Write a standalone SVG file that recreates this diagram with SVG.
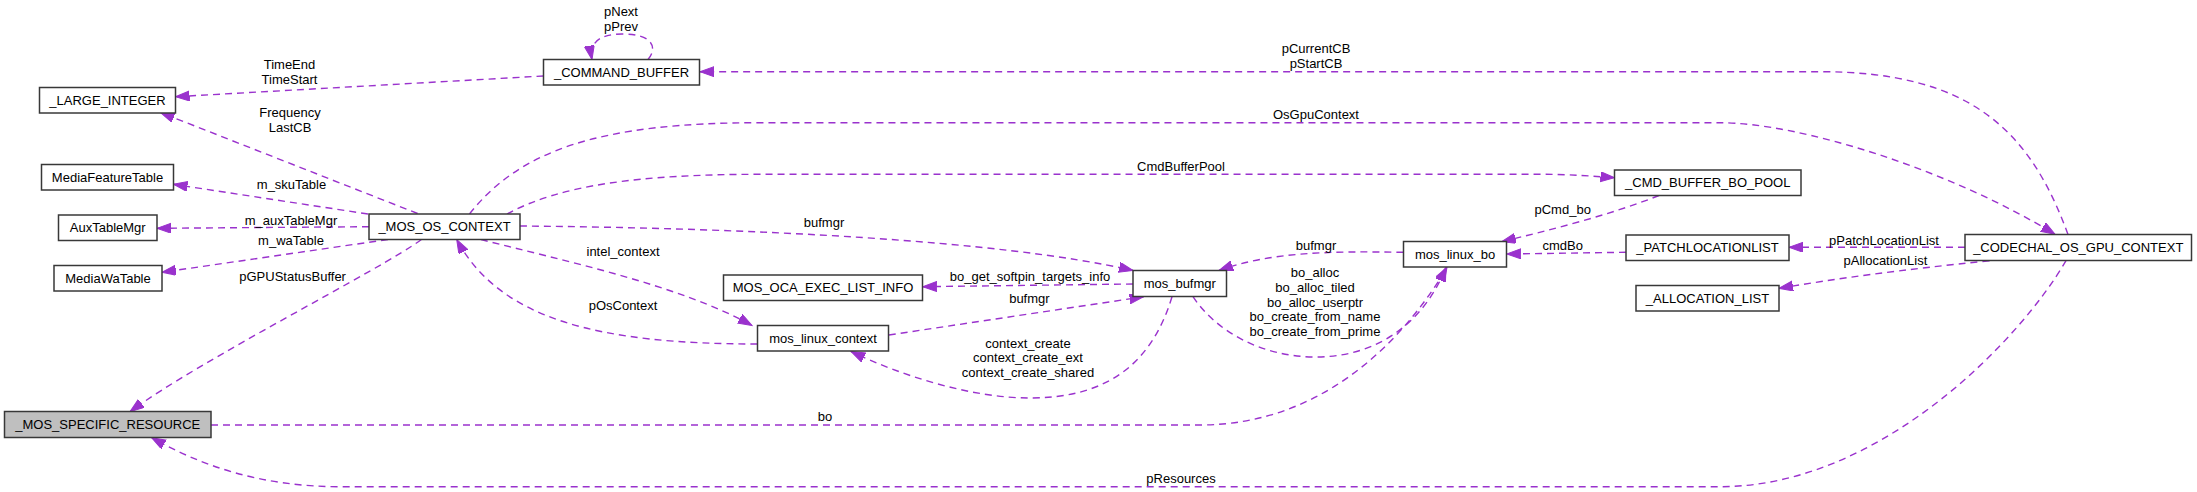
<svg xmlns="http://www.w3.org/2000/svg" width="2197" height="492" viewBox="0 0 2197 492">
<style>
.n rect{fill:#fff;stroke:#383838;stroke-width:1.5}
.n.g rect{fill:#bfbfbf}
text{font-family:"Liberation Sans",Arial,sans-serif;font-size:13px;fill:#000}
.n text{text-anchor:middle}
.e path{fill:none;stroke:#9a32cd;stroke-width:1.4;stroke-dasharray:7,5;marker-end:url(#ah)}
.l text{text-anchor:middle}
</style>
<defs>
<marker id="ah" markerUnits="userSpaceOnUse" markerWidth="15" markerHeight="11" refX="14" refY="5" orient="auto" viewBox="0 0 15 11">
<path d="M0,0 L14,5 L0,10 z" fill="#9a32cd" stroke="#9a32cd" stroke-width="1"/>
</marker>
</defs>
<rect width="2197" height="492" fill="#fff"/>
<g id="connectors" class="e">
<path d="M648,59.5 C657,49 655,34 622,34 C598,34 589,44 592,59.5"/>
<path d="M543.5,76 L175.5,96.7"/>
<path d="M417.6,213.5 L160.5,112.5"/>
<path d="M368,214 L173.5,184.3"/>
<path d="M369,226.7 L157,228.3"/>
<path d="M388,239.5 L162,272.3"/>
<path d="M421.4,239.5 C380,270 200,360 130,411.7"/>
<path d="M2068,234.5 C2030,130 1970,71.7 1820,71.7 L700,71.7"/>
<path d="M469.5,214 C520,150 600,122.7 760,122.7 L1720,122.7 C1800,122.7 1950,170 2055,234.3"/>
<path d="M507,214 C560,185 640,174.3 760,174.3 L1540,174.3 C1570,174.3 1590,176 1614.5,177.7"/>
<path d="M520,226 C750,228 1000,240 1133,270.5"/>
<path d="M481,239.5 C560,260 680,285 752,325.5"/>
<path d="M757.5,344 C600,344 500,320 456.7,239.5"/>
<path d="M1133,284 L922.7,286.7"/>
<path d="M888.8,335 L1143.6,296.8"/>
<path d="M1172,296.7 C1150,370 1100,398 1030,398 C970,398 900,375 851,351.5"/>
<path d="M1403.5,252.3 C1330,251 1270,252 1219,270.5"/>
<path d="M1193,296.7 C1215,330 1260,357 1316,357 C1380,357 1425,320 1446,267.5"/>
<path d="M211,425 L1200,425 C1330,425 1410,330 1447,267.5"/>
<path d="M1659,195.5 C1610,215 1550,230 1501.7,241.7"/>
<path d="M1626,252.3 L1506.7,254"/>
<path d="M1965,247.3 L1789,247.3"/>
<path d="M1989.6,260.7 C1900,270 1840,278 1779,288.3"/>
<path d="M2066,260.7 C2020,340 1880,486.7 1720,486.7 L340,486.7 C260,486.7 200,465 151.7,437.7"/>
</g>
<g id="edge-labels" class="l">
<text x="621" y="16">pNext</text>
<text x="621" y="31">pPrev</text>
<text x="289.5" y="68.5">TimeEnd</text>
<text x="289.5" y="83.5">TimeStart</text>
<text x="290" y="117">Frequency</text>
<text x="290" y="131.5">LastCB</text>
<text x="291.5" y="188.8">m_skuTable</text>
<text x="291" y="225">m_auxTableMgr</text>
<text x="291" y="244.5">m_waTable</text>
<text x="292.6" y="281">pGPUStatusBuffer</text>
<text x="623" y="256">intel_context</text>
<text x="623" y="309.5">pOsContext</text>
<text x="1316" y="53">pCurrentCB</text>
<text x="1316" y="68">pStartCB</text>
<text x="1316" y="118.8">OsGpuContext</text>
<text x="1181" y="170.5">CmdBufferPool</text>
<text x="824" y="227">bufmgr</text>
<text x="1316" y="249.5">bufmgr</text>
<text x="1030" y="281">bo_get_softpin_targets_info</text>
<text x="1029.4" y="302.8">bufmgr</text>
<text x="1028" y="347.8">context_create</text>
<text x="1028" y="362.3">context_create_ext</text>
<text x="1028" y="376.8">context_create_shared</text>
<text x="1315" y="277">bo_alloc</text>
<text x="1315" y="291.7">bo_alloc_tiled</text>
<text x="1315" y="306.5">bo_alloc_userptr</text>
<text x="1315" y="321.3">bo_create_from_name</text>
<text x="1315" y="336">bo_create_from_prime</text>
<text x="825" y="421">bo</text>
<text x="1181" y="483">pResources</text>
<text x="1562.7" y="213.5">pCmd_bo</text>
<text x="1562.7" y="249.5">cmdBo</text>
<text x="1884" y="244.5">pPatchLocationList</text>
<text x="1885.4" y="264.5">pAllocationList</text>
</g>
<g id="n_command_buffer" class="n"><rect x="543.5" y="59.5" width="156" height="25.5"/><text x="621.5" y="76.8">_COMMAND_BUFFER</text></g>
<g id="n_large_integer" class="n"><rect x="39.5" y="87.5" width="136" height="25.5"/><text x="107.5" y="104.8">_LARGE_INTEGER</text></g>
<g id="n_media_feature_table" class="n"><rect x="41.5" y="164.5" width="132" height="25.5"/><text x="107.5" y="181.8">MediaFeatureTable</text></g>
<g id="n_aux_table_mgr" class="n"><rect x="58.5" y="215" width="98.5" height="25.5"/><text x="107.75" y="232.3">AuxTableMgr</text></g>
<g id="n_media_wa_table" class="n"><rect x="54" y="265.5" width="108" height="25.5"/><text x="108" y="282.8">MediaWaTable</text></g>
<g id="n_mos_os_context" class="n"><rect x="369" y="214" width="151" height="25.5"/><text x="444.5" y="231.3">_MOS_OS_CONTEXT</text></g>
<g id="n_mos_specific_resource" class="n g"><rect x="4.5" y="411.5" width="206.5" height="26"/><text x="107.75" y="429">_MOS_SPECIFIC_RESOURCE</text></g>
<g id="n_mos_oca_exec_list_info" class="n"><rect x="723.5" y="275" width="199" height="25.5"/><text x="823" y="292.3">MOS_OCA_EXEC_LIST_INFO</text></g>
<g id="n_mos_linux_context" class="n"><rect x="757.5" y="325.5" width="131" height="25.5"/><text x="823" y="342.8">mos_linux_context</text></g>
<g id="n_mos_bufmgr" class="n"><rect x="1133" y="270.5" width="93.5" height="26"/><text x="1179.75" y="288">mos_bufmgr</text></g>
<g id="n_cmd_buffer_bo_pool" class="n"><rect x="1614.5" y="170" width="186.5" height="25.5"/><text x="1707.75" y="187.3">_CMD_BUFFER_BO_POOL</text></g>
<g id="n_mos_linux_bo" class="n"><rect x="1403.5" y="241.5" width="103" height="25.5"/><text x="1455" y="258.8">mos_linux_bo</text></g>
<g id="n_patchlocationlist" class="n"><rect x="1626" y="235" width="163" height="25.5"/><text x="1707.5" y="252.3">_PATCHLOCATIONLIST</text></g>
<g id="n_allocation_list" class="n"><rect x="1636" y="285.5" width="143" height="25.5"/><text x="1707.5" y="302.8">_ALLOCATION_LIST</text></g>
<g id="n_codechal_os_gpu_context" class="n"><rect x="1965" y="234.5" width="226.5" height="26"/><text x="2078.25" y="252">_CODECHAL_OS_GPU_CONTEXT</text></g>
</svg>
